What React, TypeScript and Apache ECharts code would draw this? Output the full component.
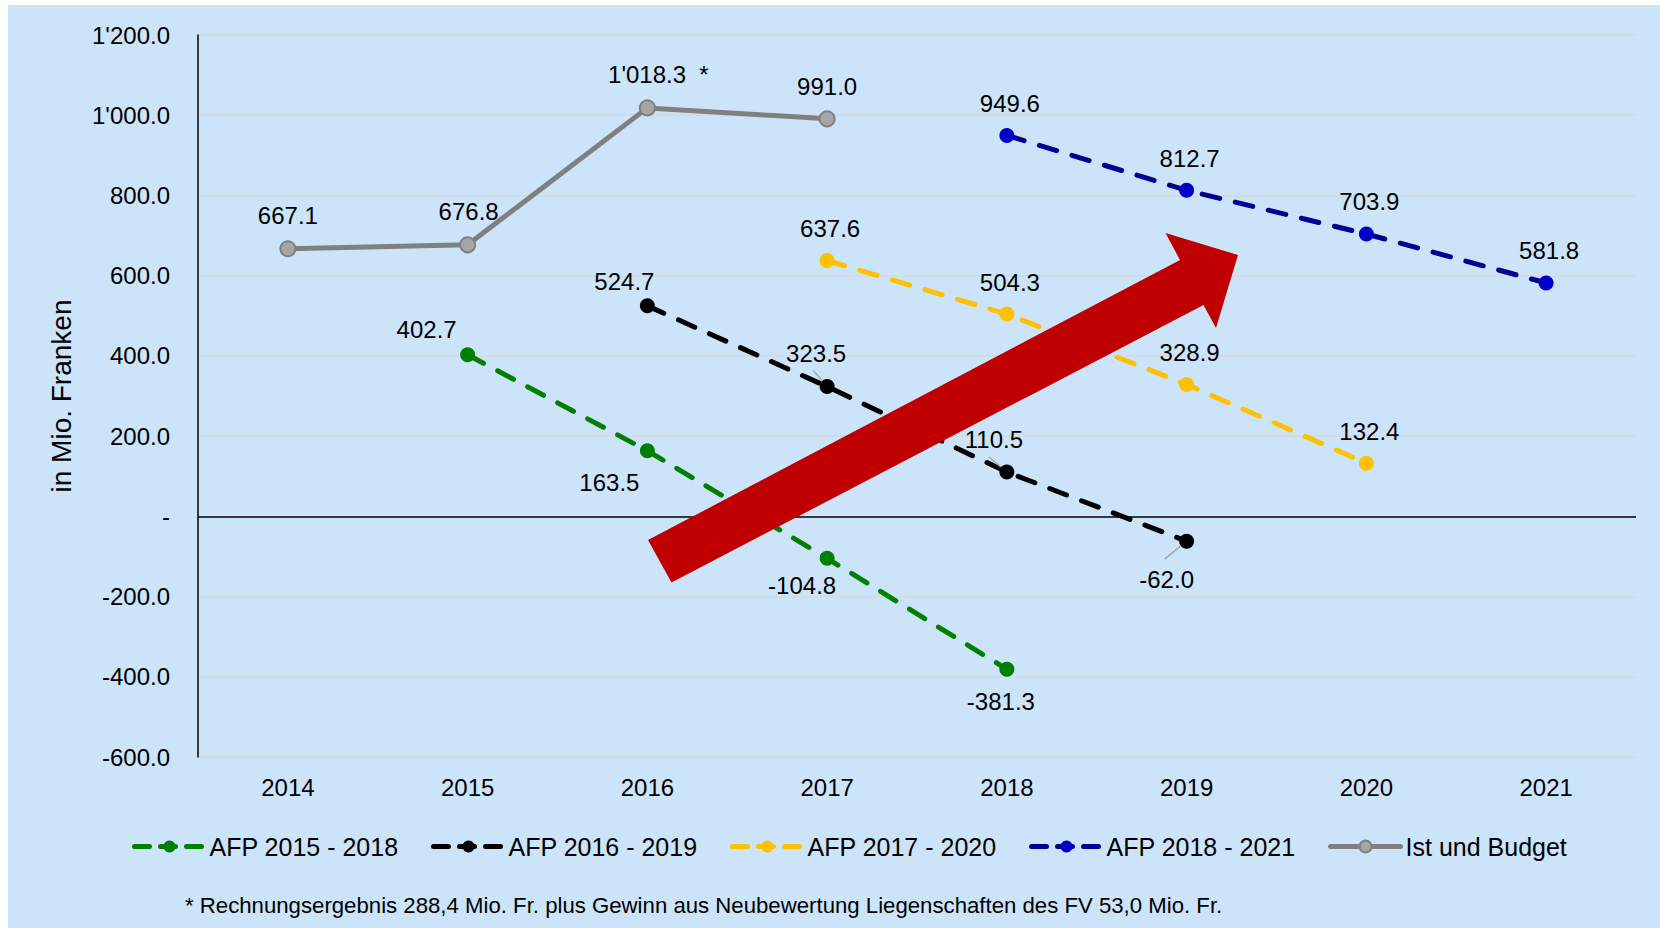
import React, { useEffect, useRef } from 'react';
import * as echarts from 'echarts';

// ---- data ----
const years = ['2014', '2015', '2016', '2017', '2018', '2019', '2020', '2021'];
const afp2015_2018 = [null, 402.7, 163.5, -104.8, -381.3, null, null, null];
const afp2016_2019 = [null, null, 524.7, 323.5, 110.5, -62.0, null, null];
const afp2017_2020 = [null, null, null, 637.6, 504.3, 328.9, 132.4, null];
const afp2018_2021 = [null, null, null, null, 949.6, 812.7, 703.9, 581.8];
const istUndBudget = [667.1, 676.8, 1018.3, 991.0, null, null, null, null];
const yMin = -600;
const yMax = 1200;
const yInterval = 200;
const seriesNames = ['AFP 2015 - 2018', 'AFP 2016 - 2019', 'AFP 2017 - 2020', 'AFP 2018 - 2021', 'Ist und Budget'];
const yAxisTitle = 'in Mio. Franken';
const footnote = '* Rechnungsergebnis 288,4 Mio. Fr. plus Gewinn aus Neubewertung Liegenschaften des FV 53,0 Mio. Fr.';
const starred = { series: 'Ist und Budget', index: 2, mark: '  *' };
// points of "AFP 2016 - 2019" whose labels have a leader line (category indices)
const leaderPointIndices = [3, 4, 5];

// ---- styles / label placement ----
const FONT = "'Liberation Sans', Arial, Helvetica, sans-serif";
const DEFAULT_OFFSET: [number, number] = [3, -32];
const labelOffsets: Record<string, Record<number, [number, number]>> = {
  'AFP 2015 - 2018': { 1: [-41, -25], 2: [-38, 32], 3: [-25, 27], 4: [-6, 32] },
  'AFP 2016 - 2019': { 2: [-23, -24], 3: [-11, -33], 4: [-13, -33], 5: [-20, 38] },
  'AFP 2017 - 2020': {},
  'AFP 2018 - 2021': {},
  'Ist und Budget': { 0: [0, -33], 1: [1, -33], 2: [11, -33], 3: [0, -32] },
};
// pixel offsets of leader line ends relative to the point: [x1, y1, x2, y2]
const leaderOffsets: [number, number, number, number][] = [
  [-14, -16, -5, -6],
  [-18, -15, -6, -5],
  [-22, 18, -6, 5],
];

function fmt(v: number): string {
  const s = Math.abs(v).toFixed(1);
  const [i, d] = s.split('.');
  const ii = i.replace(/\B(?=(\d{3})+(?!\d))/g, "'");
  return (v < 0 ? '-' : '') + ii + '.' + d;
}

type SeriesStyle = { line: string; marker: string; border?: string; dashed: boolean };
const styles: Record<string, SeriesStyle> = {
  'AFP 2015 - 2018': { line: '#008000', marker: '#008000', dashed: true },
  'AFP 2016 - 2019': { line: '#000000', marker: '#000000', dashed: true },
  'AFP 2017 - 2020': { line: '#FFC000', marker: '#FFC000', dashed: true },
  'AFP 2018 - 2021': { line: '#000094', marker: '#0000C8', dashed: true },
  'Ist und Budget': { line: '#808080', marker: '#A6A6A6', border: '#808080', dashed: false },
};

const seriesValues: Record<string, (number | null)[]> = {
  'AFP 2015 - 2018': afp2015_2018,
  'AFP 2016 - 2019': afp2016_2019,
  'AFP 2017 - 2020': afp2017_2020,
  'AFP 2018 - 2021': afp2018_2021,
  'Ist und Budget': istUndBudget,
};

function buildSeries(name: string, idx: number) {
  const st = styles[name];
  const values = seriesValues[name];
  const data = values.map((v, i) => {
    if (v == null) return null;
    const off = labelOffsets[name][i] || DEFAULT_OFFSET;
    const star = starred.series === name && starred.index === i;
    return {
      value: v,
      label: {
        offset: off,
        formatter: fmt(v) + (star ? starred.mark : ''),
      },
    };
  });
  const s: any = {
    name,
    type: 'line',
    data,
    symbol: 'circle',
    symbolSize: 15,
    showSymbol: true,
    connectNulls: false,
    z: 3 + idx,
    lineStyle: {
      color: st.line,
      width: 5,
      type: st.dashed ? [18, 16] : 'solid',
      cap: 'round',
    },
    itemStyle: {
      color: st.marker,
      borderColor: st.border || st.marker,
      borderWidth: st.border ? 2 : 0,
    },
    label: {
      show: true,
      position: 'inside',
      color: '#000',
      fontSize: 24,
      fontFamily: FONT,
      textBorderWidth: 0,
    },
    emphasis: { disabled: true },
  };
  if (idx === 0) {
    s.markLine = {
      silent: true,
      symbol: ['none', 'none'],
      label: { show: false },
      lineStyle: { color: '#000', width: 1.5, type: 'solid' },
      emphasis: { disabled: true },
      data: [{ yAxis: 0 }],
    };
  }
  return s;
}

export default function App() {
  const ref = useRef<HTMLDivElement>(null);
  useEffect(() => {
    if (!ref.current) return;
    const chart = echarts.init(ref.current, null, { renderer: 'svg' });
    const leaderData = leaderPointIndices.map((i) => [i, afp2016_2019[i] as number]);
    const option: any = {
      animation: false,
      backgroundColor: '#CCE4FA',
      textStyle: { fontFamily: FONT },
      grid: { left: 190, right: 24, top: 30, bottom: 171, containLabel: false },
      xAxis: {
        type: 'category',
        data: years,
        boundaryGap: true,
        axisLine: { show: false },
        axisTick: { show: false },
        splitLine: { show: false },
        axisLabel: { fontSize: 24, color: '#000', margin: 18, fontFamily: FONT },
      },
      yAxis: {
        type: 'value',
        min: yMin,
        max: yMax,
        interval: yInterval,
        name: yAxisTitle,
        nameLocation: 'middle',
        nameRotate: 90,
        nameGap: 123,
        nameTextStyle: { fontSize: 28, color: '#000', fontFamily: FONT },
        axisLine: { show: true, onZero: false, lineStyle: { color: '#000', width: 1.5 } },
        axisTick: { show: false },
        splitLine: { show: true, lineStyle: { color: '#D9D9D9', width: 1.5 } },
        axisLabel: {
          fontSize: 24,
          color: '#000',
          margin: 28,
          fontFamily: FONT,
          formatter: (v: number) => (v === 0 ? '-' : fmt(v)),
        },
      },
      legend: {
        data: seriesNames.map((n) => ({
          name: n,
          lineStyle: {
            width: 5,
            cap: 'round',
            type: styles[n].dashed ? [15, 11] : 'solid',
          },
        })),
        left: 119,
        top: 824,
        itemWidth: 70,
        itemHeight: 15,
        itemGap: 32.5,
        lineStyle: { width: 5, cap: 'round' },
        textStyle: { fontSize: 25, color: '#000', fontFamily: FONT },
      },
      series: [
        ...seriesNames.map((n, i) => buildSeries(n, i)),
        {
          name: 'leader',
          type: 'custom',
          silent: true,
          z: 20,
          data: leaderData,
          renderItem: (params: any, api: any) => {
            const p = api.coord([api.value(0), api.value(1)]);
            const o = leaderOffsets[params.dataIndex];
            return {
              type: 'line',
              shape: { x1: p[0] + o[0], y1: p[1] + o[1], x2: p[0] + o[2], y2: p[1] + o[3] },
              style: { stroke: '#A6A6A6', lineWidth: 1.5 },
            };
          },
        },
      ],
      graphic: [
        {
          type: 'polygon',
          z: 100,
          silent: true,
          shape: {
            points: [
              [640, 535],
              [1172, 255],
              [1157.5, 228],
              [1230, 250],
              [1208, 323],
              [1195.5, 300],
              [663.5, 577.5],
            ],
          },
          style: { fill: '#C00000' },
        },
        {
          type: 'text',
          left: 177,
          top: 889,
          z: 100,
          style: { text: footnote, fontSize: 22.2, fill: '#000', fontFamily: FONT },
        },
      ],
    };
    chart.setOption(option);
    return () => chart.dispose();
  }, []);
  return (
    <div
      ref={ref}
      style={{ position: 'fixed', left: 8, top: 5, width: 1652, height: 923, background: '#CCE4FA' }}
    />
  );
}
